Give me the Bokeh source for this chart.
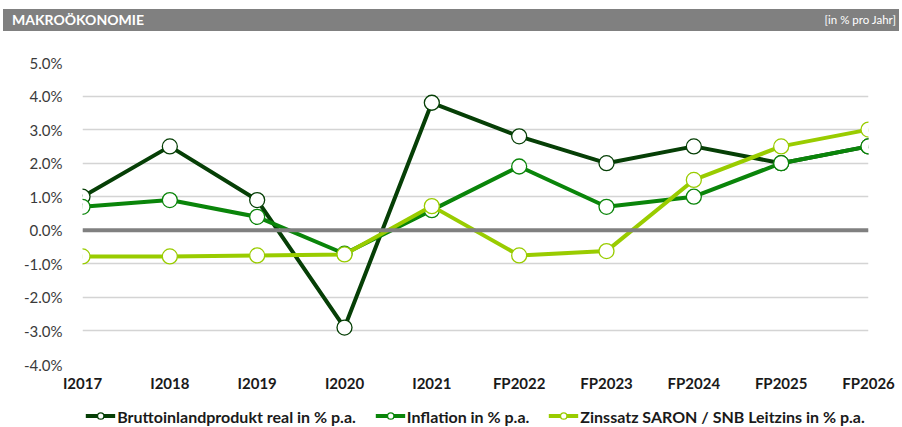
from bokeh.plotting import figure
from bokeh.models import (Range1d, FixedTicker, PrintfTickFormatter, Span, Legend, LegendItem,
                          ColumnDataSource, Div)
from bokeh.layouts import column
from bokeh.embed import file_html
from bokeh.resources import INLINE

# ---- data ----
categories = ["I2017", "I2018", "I2019", "I2020", "I2021",
              "FP2022", "FP2023", "FP2024", "FP2025", "FP2026"]
bip = [1.0, 2.5, 0.9, -2.9, 3.8, 2.8, 2.0, 2.5, 2.0, 2.5]
inflation = [0.7, 0.9, 0.4, -0.7, 0.6, 1.9, 0.7, 1.0, 2.0, 2.5]
zins = [-0.78, -0.78, -0.75, -0.72, 0.72, -0.75, -0.62, 1.5, 2.5, 3.0]
y_ticks = [-4, -3, -2, -1, 0, 1, 2, 3, 4, 5]

series_names = ["Bruttoinlandprodukt real in % p.a.", "Inflation in % p.a.",
                "Zinssatz SARON / SNB Leitzins in % p.a."]
series_colors = ["#063f06", "#0a850a", "#99cc00"]
series_values = [bip, inflation, zins]

FONT = "Lato"
xs = list(range(len(categories)))

header = Div(
    text=("<div style='display:flex;justify-content:space-between;align-items:center;"
          "width:896px;height:22px;background:#808080;color:white;font-family:Lato;"
          "padding:0 3px 0 9px;box-sizing:border-box;'>"
          "<span style='font-weight:bold;font-size:14px;'>MAKROÖKONOMIE</span>"
          "<span style='font-size:11.5px;'>[in % pro Jahr]</span></div>"),
    width=896, height=22, margin=(9, 3, 0, 3))

# ---- main chart ----
p = figure(width=902, height=363, output_backend="svg", toolbar_location=None,
           x_range=Range1d(0, len(categories) - 1), y_range=Range1d(-4, 5),
           min_border_top=31, min_border_left=82, min_border_right=34, min_border_bottom=22,
           outline_line_color=None, background_fill_color="white", border_fill_color="white")

p.xaxis.ticker = FixedTicker(ticks=xs)
p.xaxis.major_label_overrides = {i: c for i, c in enumerate(categories)}
p.yaxis.ticker = FixedTicker(ticks=y_ticks)
p.yaxis.formatter = PrintfTickFormatter(format="%.1f%%")

for ax in (p.xaxis, p.yaxis):
    ax.axis_line_color = None
    ax.major_tick_line_color = None
    ax.minor_tick_line_color = None
p.xaxis.major_label_text_font = FONT
p.xaxis.major_label_text_font_style = "bold"
p.xaxis.major_label_text_font_size = "15px"
p.xaxis.major_label_text_color = "#1a1a1a"
p.xaxis.major_label_standoff = 3
p.yaxis.major_label_text_font = FONT
p.yaxis.major_label_text_font_size = "15px"
p.yaxis.major_label_text_color = "#3a3a3a"
p.yaxis.major_label_standoff = 14

p.xgrid.grid_line_color = None
p.ygrid.ticker = FixedTicker(ticks=y_ticks)
p.ygrid.grid_line_color = "#d4d4d4"
p.ygrid.grid_line_width = 1.5

p.add_layout(Span(location=0, dimension="width", line_color="#808080", line_width=4))

for vals, col in zip(series_values, series_colors):
    src = ColumnDataSource(dict(x=xs, y=vals))
    p.line("x", "y", source=src, line_color=col, line_width=4)
    p.scatter("x", "y", source=src, marker="circle", size=15,
              fill_color="white", line_color=col, line_width=1.3)

# ---- legend strip ----
lg = figure(width=902, height=33, output_backend="svg", toolbar_location=None,
            x_axis_type=None, y_axis_type=None,
            min_border_top=10, min_border_bottom=0, min_border_left=82, min_border_right=34,
            outline_line_color=None, background_fill_color="white", border_fill_color="white")
items = []
for name, vals, col in zip(series_names, series_values, series_colors):
    src = ColumnDataSource(dict(x=xs, y=vals))
    lr = lg.line("x", "y", source=src, line_color=col, line_width=4, visible=False)
    sr = lg.scatter("x", "y", source=src, marker="circle", size=15,
                    fill_color="white", line_color=col, line_width=1.3, visible=False)
    items.append(LegendItem(label=name, renderers=[lr, sr]))

legend = Legend(items=items, orientation="horizontal", location="center",
                glyph_width=30, glyph_height=16, label_standoff=2, spacing=19,
                padding=0, margin=0, border_line_color=None, background_fill_alpha=0,
                label_text_font=FONT, label_text_font_style="bold",
                label_text_font_size="16px", label_text_color="#1a1a1a")
lg.add_layout(legend)

layout = column(header, p, lg, spacing=0)
open("out.html", "w").write(file_html(layout, INLINE))
